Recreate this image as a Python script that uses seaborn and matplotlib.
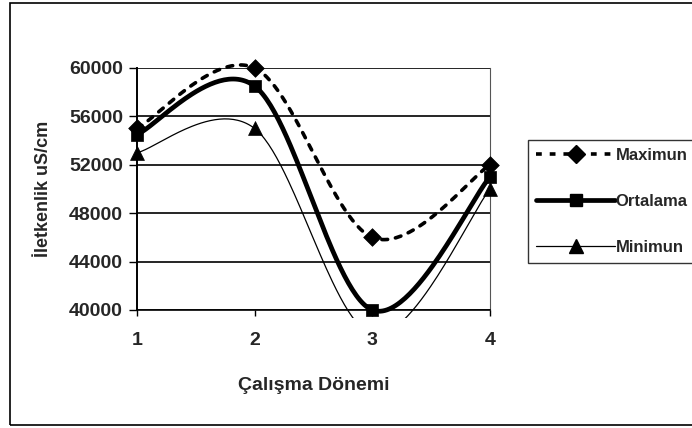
import numpy as np
import pandas as pd
import matplotlib
matplotlib.use("Agg")
import matplotlib.pyplot as plt
from matplotlib.lines import Line2D
from matplotlib.patches import Rectangle
import seaborn as sns

# ---- data ----
periods = [1, 2, 3, 4]
maximum = [55000, 60000, 46000, 52000]
ortalama = [54500, 58500, 40000, 51000]
minimum = [53000, 55000, 38000, 50000]
series_names = ["Maximun", "Ortalama", "Minimun"]
yticks = [40000, 44000, 48000, 52000, 56000, 60000]

sns.set_theme(style="white")
plt.rcParams["font.family"] = ["Liberation Sans", "DejaVu Sans"]
plt.rcParams["font.weight"] = "bold"


def smooth(xs, ys, n=60):
    """Excel-like smoothed line (Catmull-Rom through the data points)."""
    xs = np.asarray(xs, float)
    ys = np.asarray(ys, float)
    P = np.column_stack([xs, ys])
    Pext = np.vstack([P[0], P, P[-1]])
    out = []
    for i in range(len(P) - 1):
        p0, p1, p2, p3 = Pext[i], Pext[i + 1], Pext[i + 2], Pext[i + 3]
        m1 = (p2 - p0) / 2.0
        m2 = (p3 - p1) / 2.0
        t = np.linspace(0, 1, n)[:, None]
        h00 = 2 * t**3 - 3 * t**2 + 1
        h10 = t**3 - 2 * t**2 + t
        h01 = -2 * t**3 + 3 * t**2
        h11 = t**3 - t**2
        seg = h00 * p1 + h10 * m1 + h01 * p2 + h11 * m2
        out.append(seg if i == 0 else seg[1:])
    c = np.vstack(out)
    return c[:, 0], c[:, 1]


fig = plt.figure(figsize=(6.92, 4.28), dpi=100)
fig.patch.set_facecolor("white")
ax = fig.add_axes([137 / 692, 1 - 310 / 428, (490 - 137) / 692, (310 - 68) / 428])
ax.set_facecolor("white")

styles = {
    "Maximun": dict(lw=2.6, dashes=(1.6, 2.2), marker="D", ms=9),
    "Ortalama": dict(lw=3.4, dashes=None, marker="s", ms=9),
    "Minimun": dict(lw=0.9, dashes=None, marker="^", ms=10),
}
values = {"Maximun": maximum, "Ortalama": ortalama, "Minimun": minimum}


def clip_box():
    return Rectangle((-0.06, -0.035), 1.12, 1.2, transform=ax.transAxes)


for name in series_names:
    st = styles[name]
    sx, sy = smooth(periods, values[name])
    df = pd.DataFrame({"x": sx, "y": sy})
    sns.lineplot(data=df, x="x", y="y", ax=ax, color="black", lw=st["lw"],
                 sort=False, estimator=None)
    line = ax.lines[-1]
    if st["dashes"] is not None:
        line.set_dashes(st["dashes"])
        line.set_dash_capstyle("round")
    line.set_clip_path(clip_box())
    dfp = pd.DataFrame({"x": periods, "y": values[name]})
    sns.scatterplot(data=dfp, x="x", y="y", ax=ax, color="black",
                    marker=st["marker"], s=st["ms"] ** 2, edgecolor="black",
                    linewidth=0.5, zorder=5)
    ax.collections[-1].set_clip_path(clip_box())

ax.set_xlim(1, 4)
ax.set_ylim(40000, 60000)
ax.set_yticks(yticks)
ax.set_yticklabels([str(v) for v in yticks], fontsize=14, fontweight="bold")
ax.set_xticks(periods)
ax.set_xticklabels([str(p) for p in periods], fontsize=14, fontweight="bold")
ax.yaxis.grid(True, color="black", lw=1.2)
ax.set_axisbelow(True)
ax.tick_params(axis="y", direction="out", length=6, width=1, color="black", pad=4, left=True)
ax.tick_params(axis="x", direction="out", length=4, width=1, color="black", pad=12, bottom=True)

ax.spines["top"].set_visible(False)
ax.spines["left"].set_color("black")
ax.spines["left"].set_linewidth(1.4)
ax.spines["bottom"].set_color("black")
ax.spines["bottom"].set_linewidth(1.2)
ax.spines["right"].set_color("#555555")
ax.spines["right"].set_linewidth(0.8)

ax.set_xlabel("Çalışma Dönemi", fontsize=14, fontweight="bold", labelpad=20)
ax.set_ylabel("İletkenlik uS/cm", fontsize=13, fontweight="bold", labelpad=12)

# legend (its box runs past the right edge, as in the cropped original)
handles = []
for name in series_names:
    st = styles[name]
    h = Line2D([], [], color="black", lw=st["lw"], marker=st["marker"],
               markersize=st["ms"], markerfacecolor="black", markeredgecolor="black")
    if st["dashes"] is not None:
        h.set_dashes(st["dashes"])
    handles.append(h)
leg = fig.legend(handles, series_names, loc="upper left",
                 bbox_to_anchor=(528 / 692, 1 - 268 / 428, 200 / 692, 128 / 428),
                 mode="expand",
                 frameon=True, fancybox=False, edgecolor="black",
                 prop={"size": 12, "weight": "bold"},
                 handlelength=4.7, handletextpad=0.05, labelspacing=1.85,
                 borderpad=0.5, borderaxespad=0.0)
leg.get_frame().set_linewidth(1.0)

# outer chart border (continues past the right edge, as in the cropped original)
fig.patches.append(Rectangle((10 / 692, 3 / 428), 1.2, 1 - 6 / 428,
                             transform=fig.transFigure, fill=False,
                             edgecolor="black", lw=1.2))

fig.savefig("out.png", dpi=100, facecolor="white")
